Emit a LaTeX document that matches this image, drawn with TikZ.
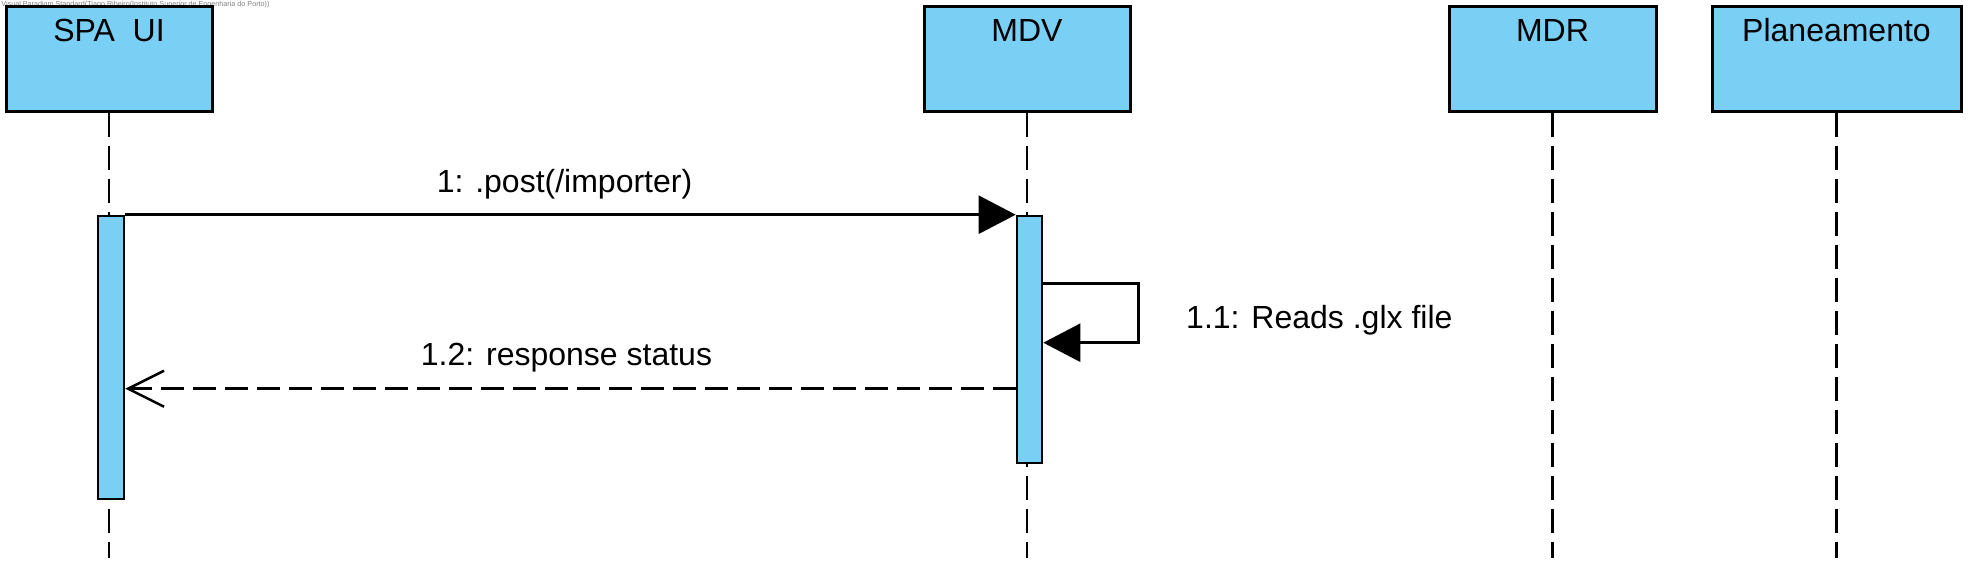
\documentclass[tikz,border=0pt]{standalone}
\usepackage{fontspec}
\setmainfont{Liberation Sans}
\usetikzlibrary{arrows.meta,positioning}
\definecolor{vpblue}{RGB}{122,207,245}

\begin{document}
\begin{tikzpicture}[
  x=0.5pt, y=-0.5pt,
  head/.style={draw, line width=1.5pt, fill=vpblue, minimum width=103pt, inner xsep=0pt, inner ysep=0pt, text height=17.85pt, text depth=34.65pt, font=\fontsize{16}{19}\selectfont},
  bar/.style={draw, line width=1.3pt, fill=vpblue, inner sep=0pt, minimum width=13pt},
  lifeline/.style={line width=1.3pt, dash pattern=on 12pt off 4.5pt},
  call/.style={line width=1.25pt, -{Triangle[length=18.5pt, width=19pt]}},
  reply/.style={line width=1.25pt, dash pattern=on 11.5pt off 4.5pt, -{Straight Barb[length=18pt, width=18pt]}},
  msg/.style={font=\fontsize{16}{19}\selectfont},
]
  \useasboundingbox (0,0) rectangle (1977,570);

  \node[anchor=north west, inner sep=0pt, text=gray, font=\fontsize{3.6}{4}\selectfont] (stamp) at (1,1) {Visual Paradigm Standard(Tiago Ribeiro(Instituto Superior de Engenharia do Porto))};

  % lifeline heads
  \node[head] (spaui) at (109,58.5) {SPA\ \ UI};
  \node[head] (mdv) at (1027,58.5) {MDV};
  \node[head, minimum width=103.5pt] (mdr) at (1552.5,58.5) {MDR};
  \node[head, minimum width=124.5pt] (plan) at (1836.5,58.5) {Planeamento};

  \coordinate (spauiEnd) at (spaui.south |- 0,558);
  \coordinate (mdvEnd) at (mdv.south |- 0,558);
  \coordinate (mdrEnd) at (mdr.south |- 0,558);
  \coordinate (planEnd) at (plan.south |- 0,558);

  \draw[lifeline] (spaui.south) -- (spauiEnd);
  \draw[lifeline] (mdv.south) -- (mdvEnd);
  \draw[lifeline] (mdr.south) -- (mdrEnd);
  \draw[lifeline] (plan.south) -- (planEnd);

  % activations
  \node[bar, minimum height=141.5pt] (spabar) at (111,357.5) {};
  \node[bar, minimum width=12.5pt, minimum height=123.5pt] (mdvbar) at (1029.5,339.5) {};

  % messages
  \draw[call] (spabar.north east) -- node[msg, midway, anchor=base, xshift=-3pt, yshift=11pt] {1: .post(/importer)} (mdvbar.north west);
  \draw[call] ([yshift=-34.5pt]mdvbar.north east) -- ++(95,0) -- node[msg, right=20pt, yshift=-3.5pt] {1.1: Reads .glx file} ++(0,59) -- ([yshift=-64pt]mdvbar.north east);
  \draw[reply] ([yshift=-87pt]mdvbar.north west) -- node[msg, midway, anchor=base, xshift=-2pt, yshift=11.5pt] {1.2: response status} ([yshift=-87pt]spabar.north east);
\end{tikzpicture}
\end{document}
